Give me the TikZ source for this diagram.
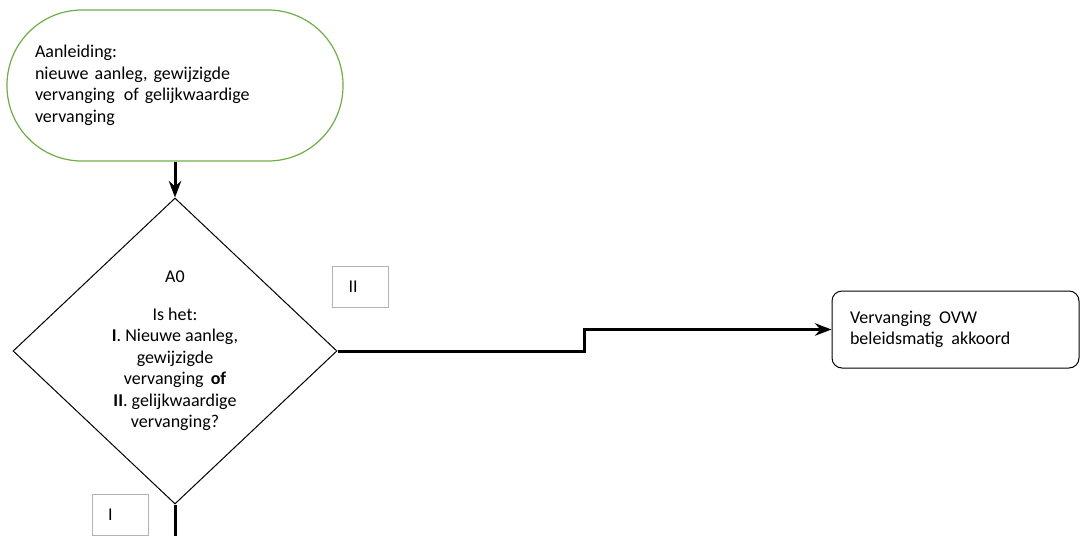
\documentclass[tikz,border=0pt]{standalone}
\usepackage{fontspec}
\setmainfont{Carlito}
\usetikzlibrary{arrows.meta, positioning, shapes.geometric}
\definecolor{termgreen}{RGB}{112,173,71}

\begin{document}
\begin{tikzpicture}[x=1pt, y=-1pt, >=Stealth,
    font=\fontsize{18}{21.5}\selectfont,
    terminal/.style={rectangle, rounded corners=75pt, draw=termgreen, line width=1.2pt, minimum width=336pt, minimum height=151pt, inner xsep=28pt, text width=280pt, align=left},
    decision/.style={diamond, draw, line width=1pt, minimum width=324pt, minimum height=306pt, inner sep=0pt, align=center},
    result/.style={rectangle, rounded corners=10pt, draw, line width=1pt, minimum height=77pt, inner xsep=18pt, text width=211pt, align=left},
    answer/.style={rectangle, draw=black!30, line width=0.8pt, minimum height=41pt, inner xsep=16pt, text width=24pt, align=left},
    flow/.style={->, line width=3pt},
    line/.style={line width=3pt}]
        \useasboundingbox (0,0) rectangle (1080,536);

        \node[terminal] (start) at (175,85.5) {Aanleiding:\\ nieuwe aanleg, gewijzigde\\ vervanging\hspace{3pt} of gelijkwaardige\\ vervanging};
        \node[decision] (dec) at (175,351) {A0\\[16pt] Is het:\\ \textbf{I}. Nieuwe aanleg,\\ gewijzigde\\ vervanging\hspace{3pt} \textbf{of}\\ \textbf{II}. gelijkwaardige\\ vervanging?};
        \node[result] (res) at (955.5,329.5) {Vervanging\hspace{2pt} OVW\\ beleidsmatig\hspace{2pt} akkoord};
        \node[answer] (ans2) at (360.5,286.5) {II};
        \node[answer] (ans1) at (120,514.5) {I};
        \coordinate (out) at (175,536);

        \draw[flow] (start.south) -- (dec.north);
        \draw[flow] (dec.east) -- ++(247,0) |- (res.west);
        \draw[line] (dec.south) -- (out);
    \end{tikzpicture}
\end{document}
